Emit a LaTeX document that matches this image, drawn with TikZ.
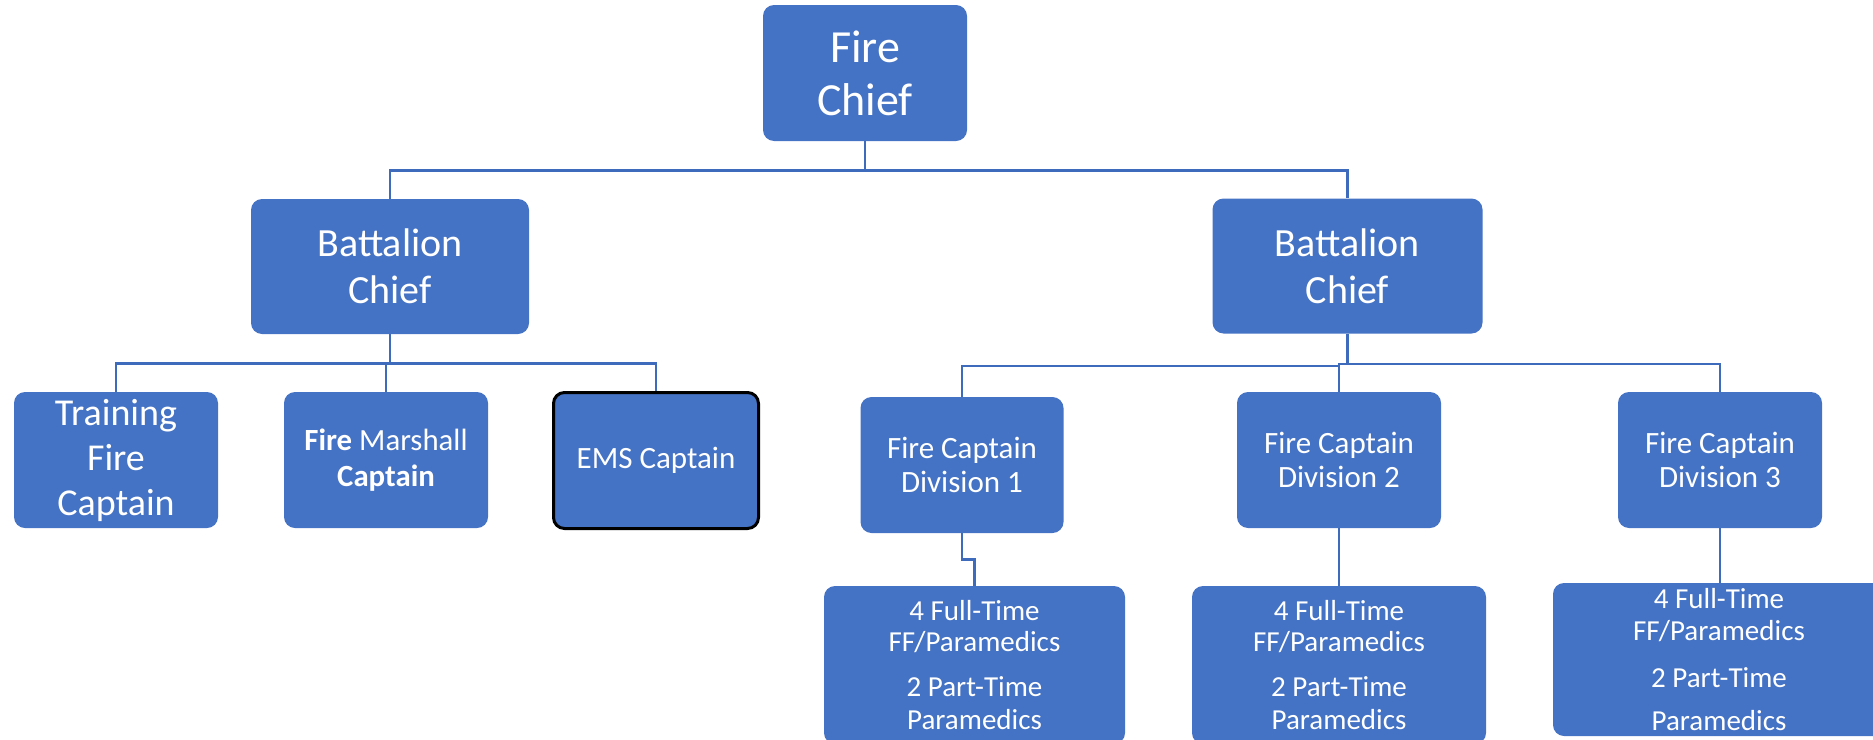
\documentclass[tikz,border=0pt]{standalone}
\usepackage{fontspec}
\setmainfont{Carlito}
\definecolor{boxblue}{HTML}{4472C4}
\definecolor{lineblue}{HTML}{3E6BBB}
\begin{document}
\begin{tikzpicture}[x=0.5pt,y=-0.5pt,
  orgbox/.style={fill=boxblue, draw=none, rounded corners=5.5pt, text=white, align=center, inner sep=0pt},
  conn/.style={draw=lineblue, line width=1.3pt}]
\path[use as bounding box, clip] (0,0) rectangle (1873,739);
% level 1
\node[orgbox, minimum width=102pt, minimum height=68pt, font=\fontsize{23}{26.5}\selectfont] (fc) at (865,73) {Fire\\Chief};
% level 2
\node[orgbox, minimum width=139pt, minimum height=67.5pt, font=\fontsize{20}{23.5}\selectfont] (bc1) at (390,266.5) {Battalion\\Chief};
\node[orgbox, minimum width=135pt, minimum height=67.5pt, font=\fontsize{20}{23.5}\selectfont] (bc2) at (1347.5,266) {Battalion\\Chief};
% level 3 left
\node[orgbox, minimum width=102pt, minimum height=68pt, font=\fontsize{19}{22.5}\selectfont] (tfc) at (116,460) {Training\\Fire\\Captain};
\node[orgbox, minimum width=102pt, minimum height=68pt, font=\fontsize{15.4}{18}\selectfont] (fmc) at (386,460) {\textbf{Fire} Marshall\\\textbf{Captain}};
\node[orgbox, draw=black, line width=1.5pt, minimum width=102.5pt, minimum height=68pt, font=\fontsize{15.5}{18}\selectfont] (ems) at (656,460.5) {EMS Captain};
% level 3 right
\node[orgbox, minimum width=101.5pt, minimum height=68pt, font=\fontsize{15.5}{17}\selectfont] (d1) at (962,465) {Fire Captain\\Division 1};
\node[orgbox, minimum width=102pt, minimum height=68pt, font=\fontsize{15.5}{17}\selectfont] (d2) at (1339,460) {Fire Captain\\Division 2};
\node[orgbox, minimum width=102pt, minimum height=68pt, font=\fontsize{15.5}{17}\selectfont] (d3) at (1720,460) {Fire Captain\\Division 3};
% level 4
\node[orgbox, minimum width=150.5pt, minimum height=79pt, font=\fontsize{14.5}{15.5}\selectfont] (b1) at (974.5,665) {4 Full-Time\\FF/Paramedics\\[7pt]2 Part-Time\\[1pt]Paramedics};
\node[orgbox, minimum width=147pt, minimum height=79pt, font=\fontsize{14.5}{15.5}\selectfont] (b2) at (1339,665) {4 Full-Time\\FF/Paramedics\\[7pt]2 Part-Time\\[1pt]Paramedics};
\node[orgbox, minimum width=166pt, minimum height=76.5pt, font=\fontsize{14.5}{15.5}\selectfont] (b3) at (1719,659.5) {4 Full-Time\\[0.5pt]FF/Paramedics\\[8pt]2 Part-Time\\[6pt]Paramedics};
% connectors
\coordinate (k) at (1339,366);
\draw[conn] (fc.south) -- ++(0,29) -| (bc1.north);
\draw[conn] (fc.south) -- ++(0,29) -| (bc2.north);
\draw[conn] (bc1.south) -- ++(0,29) -| (tfc.north);
\draw[conn] (bc1.south) -- ++(0,29) -| (fmc.north);
\draw[conn] (bc1.south) -- ++(0,29) -| (ems.north);
\draw[conn] (bc2.south) -- ++(0,30) -| (d2.north);
\draw[conn] (bc2.south) -- ++(0,30) -| (d3.north);
\draw[conn] (d2.north |- k) -| (d1.north);
\draw[conn] (d1.south) -- ++(0,26) -| (b1.north);
\draw[conn] (d2.south) -- (b2.north);
\draw[conn] (d3.south) -- (d3.south |- b3.north);
\end{tikzpicture}
\end{document}
